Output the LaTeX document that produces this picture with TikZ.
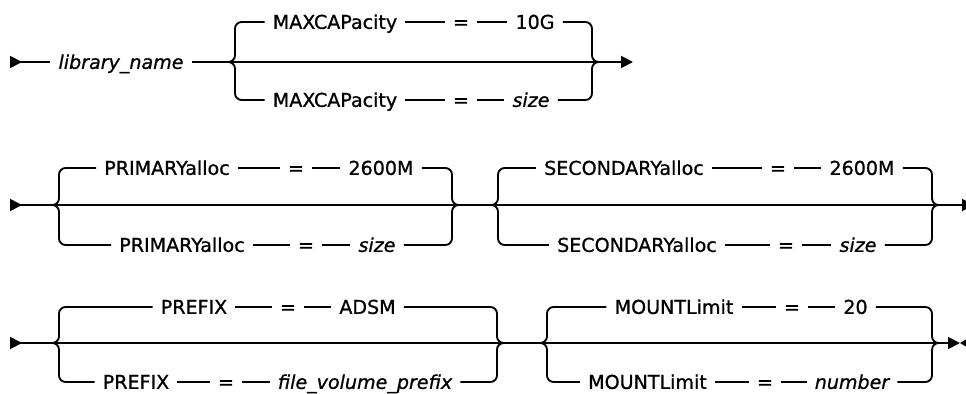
\documentclass[tikz,border=0pt]{standalone}
\usepackage{fontspec}
\setmainfont{DejaVu Sans}
\newfontfamily\railfont{DejaVu Sans}[FakeBold=0.9]
\usetikzlibrary{arrows.meta}

\tikzset{
  rail/.style={line width=1.4pt},
  fork/.style={rail, rounded corners=5pt},
  kw/.style={inner xsep=6pt, inner ysep=0pt, text height=10.3pt, text depth=0pt,
    font=\railfont\fontsize{14.3}{16}\selectfont},
  var/.style={kw, font=\railfont\fontsize{14.3}{16}\selectfont\itshape},
  eq/.style={kw, inner xsep=6pt},
  begin/.style={rail, {Triangle[reversed, length=9pt, width=9pt]}-},
  goon/.style={rail, -{Triangle[length=9pt, width=9pt]}},
}

\begin{document}
\begin{tikzpicture}[x=0.75pt, y=-0.75pt]
\useasboundingbox (0,0) rectangle (966,393);

% row 1: library name and capacity
\coordinate (s1) at (10,62);
\node[var] (lib) at (121,62) {library\_name};
\coordinate (g1in) at (235,62);
\node[kw] (maxa) at (335,22) {MAXCAPacity};
\node[eq] (eqa) at (461,22) {=};
\node[kw] (capdef) at (535,22) {10G};
\node[kw] (maxb) at (335,100) {MAXCAPacity};
\node[eq] (eqb) at (461,100) {=};
\node[var] (capsize) at (531,100) {size};
\coordinate (g1out) at (592,62);
\coordinate (e1) at (633,62);

\draw[begin] (s1) -- (lib);
\draw[goon] (lib) -- (e1);
\draw[fork] ([xshift=-5pt]g1in) -| (g1in |- maxa) -- (maxa);
\draw[fork] ([xshift=-5pt]g1in) -| (g1in |- maxb) -- (maxb);
\draw[rail] (maxa) -- (eqa) -- (capdef);
\draw[rail] (maxb) -- (eqb) -- (capsize);
\draw[fork] (capdef) -| (g1out) -- ([xshift=5pt]g1out);
\draw[fork] (capsize) -| (g1out) -- ([xshift=5pt]g1out);

% row 2: primary and secondary allocation
\coordinate (s2) at (10,205);
\coordinate (g2in) at (59,205);
\node[kw] (pria) at (167,168) {PRIMARYalloc};
\node[eq] (eqc) at (296,168) {=};
\node[kw] (pridef) at (381,168) {2600M};
\node[kw] (prib) at (182,245) {PRIMARYalloc};
\node[eq] (eqd) at (306,245) {=};
\node[var] (prisize) at (377,245) {size};
\coordinate (g2out) at (452,205);
\coordinate (g3in) at (498,205);
\node[kw] (seca) at (624,168) {SECONDARYalloc};
\node[eq] (eqe) at (778,168) {=};
\node[kw] (secdef) at (862,168) {2600M};
\node[kw] (secb) at (637,245) {SECONDARYalloc};
\node[eq] (eqf) at (786,245) {=};
\node[var] (secsize) at (858,245) {size};
\coordinate (g3out) at (932,205);
\coordinate (e2) at (974,205);

\draw[begin] (s2) -- (g2in);
\draw[goon] (g2in) -- (e2);
\draw[fork] ([xshift=-5pt]g2in) -| (g2in |- pria) -- (pria);
\draw[fork] ([xshift=-5pt]g2in) -| (g2in |- prib) -- (prib);
\draw[rail] (pria) -- (eqc) -- (pridef);
\draw[rail] (prib) -- (eqd) -- (prisize);
\draw[fork] (pridef) -| (g2out) -- ([xshift=5pt]g2out);
\draw[fork] (prisize) -| (g2out) -- ([xshift=5pt]g2out);
\draw[fork] ([xshift=-5pt]g3in) -| (g3in |- seca) -- (seca);
\draw[fork] ([xshift=-5pt]g3in) -| (g3in |- secb) -- (secb);
\draw[rail] (seca) -- (eqe) -- (secdef);
\draw[rail] (secb) -- (eqf) -- (secsize);
\draw[fork] (secdef) -| (g3out) -- ([xshift=5pt]g3out);
\draw[fork] (secsize) -| (g3out) -- ([xshift=5pt]g3out);

% row 3: prefix and mount limit
\coordinate (s3) at (10,343);
\coordinate (g4in) at (59,343);
\node[kw] (prea) at (194,307) {PREFIX};
\node[eq] (eqg) at (288,307) {=};
\node[kw] (predef) at (367.5,307) {ADSM};
\node[kw] (preb) at (136,382) {PREFIX};
\node[eq] (eqh) at (226,382) {=};
\node[var] (prefix) at (365,382) {file\_volume\_prefix};
\coordinate (g4out) at (497,343);
\coordinate (g5in) at (547,343);
\node[kw] (mnta) at (674,307) {MOUNTLimit};
\node[eq] (eqi) at (792,307) {=};
\node[kw] (mntdef) at (855.5,307) {20};
\node[kw] (mntb) at (647.5,382) {MOUNTLimit};
\node[eq] (eqj) at (765,382) {=};
\node[var] (mntnum) at (852,382) {number};
\coordinate (g5out) at (932,343);
\coordinate (e3) at (960,343);

\draw[begin] (s3) -- (g4in);
\draw[goon] (g4in) -- (e3);
\fill (e3) -- ++(10,-6) -- ++(0,12) -- cycle;
\draw[fork] ([xshift=-5pt]g4in) -| (g4in |- prea) -- (prea);
\draw[fork] ([xshift=-5pt]g4in) -| (g4in |- preb) -- (preb);
\draw[rail] (prea) -- (eqg) -- (predef);
\draw[rail] (preb) -- (eqh) -- (prefix);
\draw[fork] (predef) -| (g4out) -- ([xshift=5pt]g4out);
\draw[fork] (prefix) -| (g4out) -- ([xshift=5pt]g4out);
\draw[fork] ([xshift=-5pt]g5in) -| (g5in |- mnta) -- (mnta);
\draw[fork] ([xshift=-5pt]g5in) -| (g5in |- mntb) -- (mntb);
\draw[rail] (mnta) -- (eqi) -- (mntdef);
\draw[rail] (mntb) -- (eqj) -- (mntnum);
\draw[fork] (mntdef) -| (g5out) -- ([xshift=5pt]g5out);
\draw[fork] (mntnum) -| (g5out) -- ([xshift=5pt]g5out);
\end{tikzpicture}
\end{document}
